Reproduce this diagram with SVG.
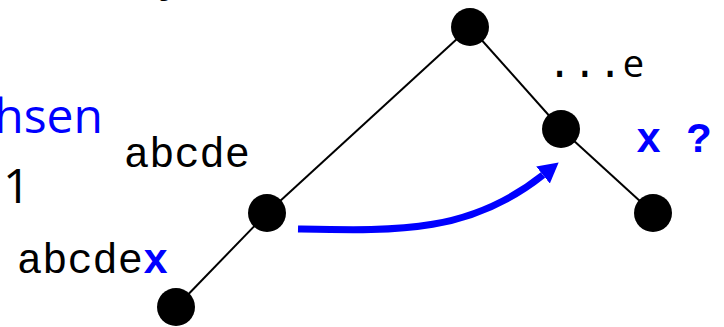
<svg xmlns="http://www.w3.org/2000/svg" width="724" height="327" viewBox="0 0 724 327">
<defs>
<style>
.edge{stroke:#000;stroke-width:2;fill:none}
.node{fill:#000}
.mono{font-family:"Liberation Mono","Courier New",monospace;font-size:42px;fill:#000}
.sans{font-family:"Open Sans","DejaVu Sans",sans-serif;font-size:48px}
.blue{fill:#0000ff}
.bold{font-weight:bold}
</style>
<marker id="head" markerUnits="userSpaceOnUse" markerWidth="24" markerHeight="26" refX="0" refY="12" orient="auto" viewBox="0 0 24 24">
<path d="M0,1 L20,12 L0,23 Z" fill="#0000ff"/>
</marker>
</defs>
<rect width="724" height="327" fill="#fff"/>
<text class="sans" x="160" y="-10" fill="#000">y</text>
<text class="sans blue" x="103" y="133" text-anchor="end">hsen</text>
<text class="sans" x="3" y="203" fill="#000">1</text>
<g id="connectors">
<line class="edge" x1="470" y1="27" x2="267" y2="213"/>
<line class="edge" x1="470" y1="27" x2="561" y2="129"/>
<line class="edge" x1="561" y1="129" x2="653" y2="213"/>
<line class="edge" x1="267" y1="213" x2="176" y2="307"/>
<path d="M298,229 C400,231 470,233 543,175" stroke="#0000ff" stroke-width="7" fill="none" marker-end="url(#head)"/>
</g>
<g id="root"><circle class="node" cx="470" cy="27" r="19"/></g>
<g id="n_e"><circle class="node" cx="561" cy="129" r="19"/></g>
<g id="n_right"><circle class="node" cx="653" cy="213" r="19"/></g>
<g id="n_abcde"><circle class="node" cx="267" cy="213" r="19"/></g>
<g id="n_abcdex"><circle class="node" cx="176" cy="307" r="19"/></g>
<text class="mono" x="124" y="167">abcde</text>
<text class="mono" x="17" y="273">abcde<tspan class="blue bold">x</tspan></text>
<text class="mono" x="547" y="77">...<tspan font-family="Open Sans, sans-serif" font-size="38px">e</tspan></text>
<text class="mono blue bold" x="636" y="152">x ?</text>
</svg>
